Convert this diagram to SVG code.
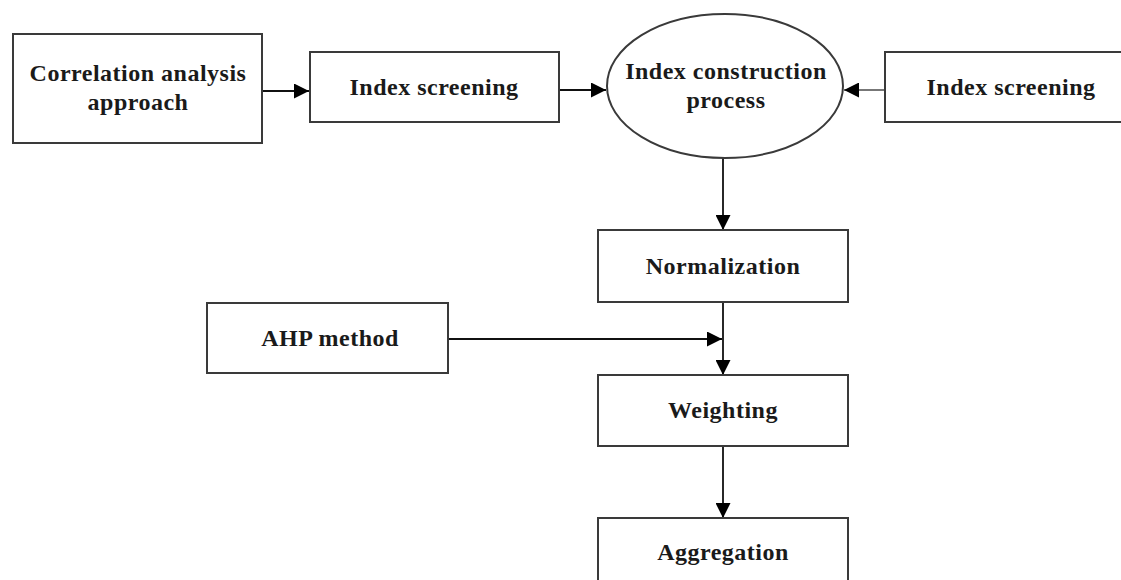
<svg xmlns="http://www.w3.org/2000/svg" width="1121" height="580" viewBox="0 0 1121 580">
  <defs>
    <style>
      .box { fill: #ffffff; stroke: #3a3a3a; stroke-width: 2; }
      .lbl { font-family: "Liberation Serif", "Times New Roman", serif; font-weight: bold; font-size: 24px; fill: #1a1a1a; text-anchor: middle; letter-spacing: 0.5px; }
      .conn { stroke: #111; stroke-width: 1.8; fill: none; }
      .conn-gray { stroke: #777; stroke-width: 2; fill: none; }
    </style>
    <marker id="arrow" viewBox="0 0 10 10" refX="10" refY="5" markerWidth="17" markerHeight="15" markerUnits="userSpaceOnUse" orient="auto">
      <path d="M0,0 L10,5 L0,10 Z" fill="#000"/>
    </marker>
  </defs>
  <rect width="1121" height="580" fill="#ffffff"/>

  <g id="connectors">
    <line class="conn" x1="262" y1="91" x2="309" y2="91" marker-end="url(#arrow)"/>
    <line class="conn" x1="559" y1="90" x2="606" y2="90" marker-end="url(#arrow)"/>
    <line class="conn-gray" x1="885" y1="90" x2="844" y2="90" marker-end="url(#arrow)"/>
    <line class="conn" x1="723" y1="158" x2="723" y2="230" marker-end="url(#arrow)"/>
    <line class="conn" x1="723" y1="302" x2="723" y2="375" marker-end="url(#arrow)"/>
    <line class="conn" x1="448" y1="339" x2="722" y2="339" marker-end="url(#arrow)"/>
    <line class="conn" x1="723" y1="446" x2="723" y2="518" marker-end="url(#arrow)"/>
  </g>

  <g id="node-correlation">
    <rect class="box" x="13" y="34" width="249" height="109"/>
    <text class="lbl" x="138" y="81">Correlation analysis</text>
    <text class="lbl" x="138" y="110">approach</text>
  </g>

  <g id="node-screening-left">
    <rect class="box" x="310" y="52" width="249" height="70"/>
    <text class="lbl" x="434" y="95">Index screening</text>
  </g>

  <g id="node-construction">
    <ellipse class="box" cx="725" cy="86" rx="118" ry="72"/>
    <text class="lbl" x="726" y="79">Index construction</text>
    <text class="lbl" x="726" y="108">process</text>
  </g>

  <g id="node-screening-right">
    <rect class="box" x="885" y="52" width="252" height="70"/>
    <text class="lbl" x="1011" y="95">Index screening</text>
  </g>

  <g id="node-normalization">
    <rect class="box" x="598" y="230" width="250" height="72"/>
    <text class="lbl" x="723" y="274">Normalization</text>
  </g>

  <g id="node-ahp">
    <rect class="box" x="207" y="303" width="241" height="70"/>
    <text class="lbl" x="330" y="346">AHP method</text>
  </g>

  <g id="node-weighting">
    <rect class="box" x="598" y="375" width="250" height="71"/>
    <text class="lbl" x="723" y="418">Weighting</text>
  </g>

  <g id="node-aggregation">
    <rect class="box" x="598" y="518" width="250" height="72"/>
    <text class="lbl" x="723" y="560">Aggregation</text>
  </g>
</svg>
